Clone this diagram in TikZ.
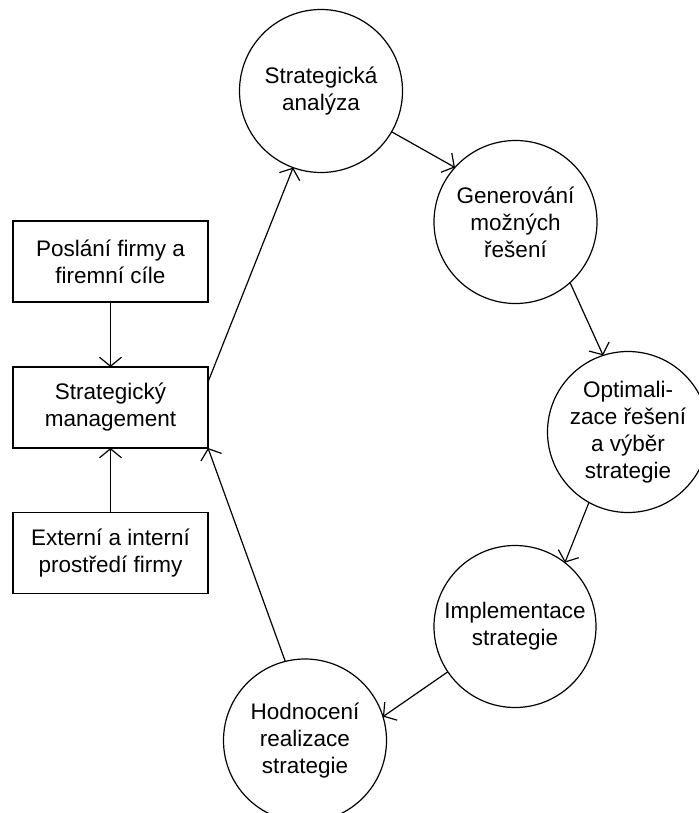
\documentclass[tikz,border=0pt]{standalone}
\usepackage{fontspec}
\setmainfont{Liberation Sans}
\usetikzlibrary{arrows.meta}
\begin{document}
\begin{tikzpicture}[x=1bp,y=-1bp,
  every node/.style={font=\fontsize{22.5bp}{27bp}\selectfont, align=center, line width=1.2bp, inner sep=0pt, outer sep=0pt},
  boxnode/.style={draw, minimum width=195bp, minimum height=81bp},
  circnode/.style={draw, circle, minimum size=163bp},
  conn/.style={line width=1.2bp, -{Straight Barb[length=9bp,width=22bp,line width=1.2bp]}}
]
\useasboundingbox (0,0) rectangle (699,813);
\node[boxnode] (b1) at (110.5,261.5) {Poslání firmy a\\firemní cíle};
\node[boxnode] (b2) at (110.5,407.5) {Strategický\\management};
\node[boxnode] (b3) at (110.5,553) {Externí a interní\\prostředí firmy};
\node[circnode] (c1) at (321,91) {Strategická\\analýza};
\node[circnode] (c2) at (515.5,222) {Generování\\možných\\řešení};
\node[circnode, minimum size=161bp] (c3) at (628,432) {Optimali-\\zace řešení\\a výběr\\strategie};
\node[circnode, minimum size=162bp] (c4) at (515,626.5) {Implementace\\strategie};
\node[circnode] (c5) at (305,740.5) {Hodnocení\\realizace\\strategie};
\draw[conn] (b1.south) -- (b2.north);
\draw[conn] (b3.north) -- (b2.south);
\draw[conn] ([yshift=25.5bp]b2.east) -- (c1.250.5);
\draw[conn] (c1.-30.6) -- (c2.138);
\draw[conn] (c2.-48.3) -- (c3.108.2);
\draw[conn] (c3.241.9) -- (c4.52.8);
\draw[conn] (c4.214.2) -- (c5.17.6);
\draw[conn] (c5.104) -- (b2.south east);
\end{tikzpicture}
\end{document}
